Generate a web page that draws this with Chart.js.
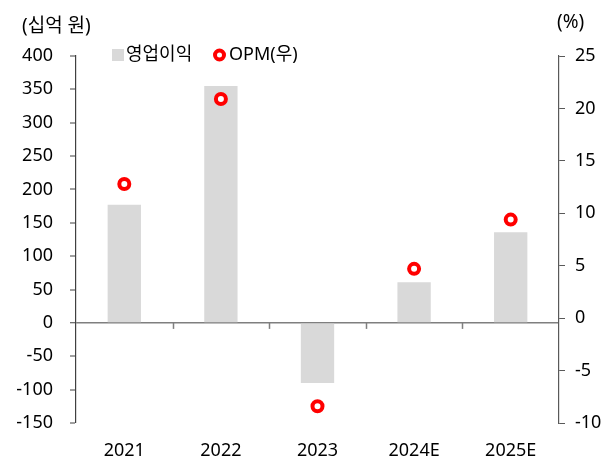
<!DOCTYPE html>
<html>
<head>
<meta charset="utf-8">
<script src="https://cdn.jsdelivr.net/npm/chart.js@4/dist/chart.umd.min.js"></script>
<style>
html,body{margin:0;padding:0;background:#fff;}
#wrap{width:615px;height:461px;position:relative;}
</style>
</head>
<body>
<div id="wrap"><canvas id="c" width="615" height="461"></canvas></div>
<script>
const categories = ['2021', '2022', '2023', '2024E', '2025E'];
const operatingProfit = [177, 355, -90, 61, 136];   // 십억 원
const opm = [12.8, 20.9, -8.4, 4.7, 9.4];            // %
const leftTicks = { min: -150, max: 400, step: 50 };
const rightTicks = { min: -10, max: 25, step: 5 };
const seriesNames = ['영업이익', 'OPM(우)'];
const leftUnit = '(십억 원)';
const rightUnit = '(%)';

const FONT = '"Noto Sans", "Noto Sans CJK KR", sans-serif';
const FS = 18;
const BAR_COLOR = '#d9d9d9';
const RED = '#ff0000';

const extras = {
  id: 'extras',
  afterDraw(chart) {
    const ctx = chart.ctx;
    const y = chart.scales.y;
    const area = chart.chartArea;
    ctx.save();
    // category boundary ticks on zero line
    const y0 = y.getPixelForValue(0);
    const n = categories.length;
    const w = (area.right - area.left) / n;
    ctx.strokeStyle = '#7f7f7f';
    ctx.lineWidth = 1.5;
    for (let i = 1; i < n; i++) {
      const xx = Math.round(area.left + i * w) + 0.5;
      ctx.beginPath();
      ctx.moveTo(xx, y0);
      ctx.lineTo(xx, y0 + 6);
      ctx.stroke();
    }
    // unit labels
    ctx.fillStyle = '#000';
    ctx.font = '19px ' + FONT;
    ctx.textBaseline = 'middle';
    ctx.textAlign = 'left';
    ctx.fillText(leftUnit, 22, 27);
    ctx.fillText(rightUnit, 557, 23);
    // legend
    ctx.font = FS + 'px ' + FONT;
    const ds = chart.data.datasets;
    const ly = 55;
    ctx.fillStyle = ds[0].backgroundColor;
    ctx.fillRect(112, ly - 6, 12, 12);
    ctx.fillStyle = '#000';
    ctx.fillText(ds[0].label, 126, ly);
    ctx.beginPath();
    ctx.arc(219.5, ly, 4.5, 0, Math.PI * 2);
    ctx.fillStyle = '#fff';
    ctx.fill();
    ctx.lineWidth = 4;
    ctx.strokeStyle = ds[1].borderColor;
    ctx.stroke();
    ctx.fillStyle = '#000';
    ctx.fillText(ds[1].label, 229, ly);
    ctx.restore();
  }
};

new Chart(document.getElementById('c'), {
  type: 'bar',
  data: {
    labels: categories,
    datasets: [
      {
        label: seriesNames[0],
        data: operatingProfit,
        backgroundColor: BAR_COLOR,
        borderWidth: 0,
        yAxisID: 'y',
        categoryPercentage: 1,
        barPercentage: 0.345,
        order: 2
      },
      {
        type: 'line',
        label: seriesNames[1],
        data: opm,
        yAxisID: 'y1',
        showLine: false,
        borderColor: RED,
        backgroundColor: '#fff',
        pointRadius: 5,
        pointBorderWidth: 4,
        pointBackgroundColor: '#fff',
        pointBorderColor: RED,
        pointHoverRadius: 5,
        order: 1
      }
    ]
  },
  options: {
    responsive: false,
    animation: false,
    devicePixelRatio: 1,
    layout: { padding: { top: 56, left: 0, right: 0, bottom: 0 } },
    plugins: { legend: { display: false }, tooltip: { enabled: false } },
    scales: {
      x: {
        grid: { display: false },
        border: { display: false },
        ticks: { color: '#000', font: { family: FONT, size: FS }, padding: 9 },
        afterFit(s) { s.height = 38; }
      },
      y: {
        position: 'left',
        min: leftTicks.min, max: leftTicks.max,
        ticks: { stepSize: leftTicks.step, color: '#000', font: { family: FONT, size: FS }, padding: 17 },
        grid: {
          color: (c) => (c.tick && c.tick.value === 0 ? '#7f7f7f' : 'rgba(0,0,0,0)'),
          lineWidth: (c) => (c.tick && c.tick.value === 0 ? 1.5 : 0),
          tickColor: '#404040',
          tickWidth: 1,
          tickLength: 6,
          drawTicks: true
        },
        border: { display: true, color: '#404040', width: 1.2 },
        afterFit(s) { s.width = 76; }
      },
      y1: {
        position: 'right',
        min: rightTicks.min, max: rightTicks.max,
        ticks: { stepSize: rightTicks.step, color: '#000', font: { family: FONT, size: FS }, padding: 10 },
        grid: { drawOnChartArea: false, tickColor: '#595959', tickLength: 6, tickWidth: 1 },
        border: { display: true, color: '#595959', width: 1.2 },
        afterFit(s) { s.width = 56; }
      }
    }
  },
  plugins: [extras]
});
</script>
</body>
</html>
